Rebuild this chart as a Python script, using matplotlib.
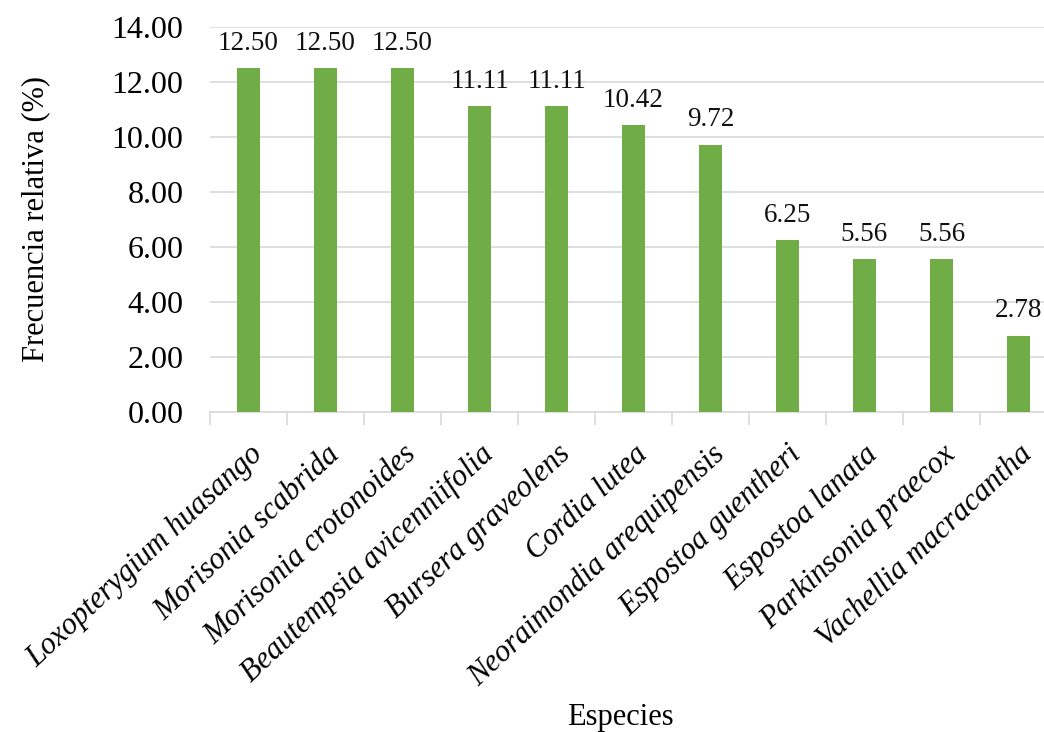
import matplotlib.pyplot as plt
from matplotlib.ticker import FormatStrFormatter

species = ["Loxopterygium huasango", "Morisonia scabrida", "Morisonia crotonoides",
           "Beautempsia avicenniifolia", "Bursera graveolens", "Cordia lutea",
           "Neoraimondia arequipensis", "Espostoa guentheri", "Espostoa lanata",
           "Parkinsonia praecox", "Vachellia macracantha"]
freq_rel = [12.50, 12.50, 12.50, 11.11, 11.11, 10.42, 9.72, 6.25, 5.56, 5.56, 2.78]

plt.rcParams['font.family'] = ['Liberation Serif', 'DejaVu Serif']

W, H = 1044, 732
fig = plt.figure(figsize=(W / 100, H / 100), dpi=100)
# axes spans x 210..1057 px, y 27..412 px (cut off at the right edge like the original)
ax = fig.add_axes([210 / W, 1 - 412 / H, (1057 - 210) / W, (412 - 27) / H])

x = list(range(len(species)))
bars = ax.bar(x, freq_rel, width=0.30, color="#70AD47", zorder=3)

for b, v in zip(bars, freq_rel):
    ax.text(b.get_x() + b.get_width() / 2, v + 0.45, "{:.2f}".format(v),
            ha="center", va="bottom", fontsize=19.5, color="#111111")

ax.set_xlim(-0.5, len(species) - 0.5)
ax.set_ylim(0, 14)
ax.set_yticks([0, 2, 4, 6, 8, 10, 12, 14])
ax.yaxis.set_major_formatter(FormatStrFormatter("%.2f"))
ax.grid(axis="y", color="#D9D9D9", linewidth=1.2, zorder=0)

ax.set_xticks(x)
ax.set_xticklabels(species, rotation=43, ha="right", rotation_mode="anchor",
                   fontstyle="italic", fontsize=22)
ax.set_xticks([i - 0.5 for i in range(len(species) + 1)], minor=True)
ax.tick_params(axis="x", which="major", length=0, pad=20)
ax.tick_params(axis="x", which="minor", length=9, color="#D9D9D9", width=1.2)
ax.tick_params(axis="y", length=0, labelsize=23, pad=19)

for s in ["top", "right", "left"]:
    ax.spines[s].set_visible(False)
ax.spines["bottom"].set_color("#D9D9D9")
ax.spines["bottom"].set_linewidth(1.2)

ax.set_ylabel("Frecuencia relativa (%)", fontsize=22)
ax.yaxis.set_label_coords(-0.189, 0.5)
fig.text(620 / W, 1 - 718 / H, "Especies", ha="center", va="center", fontsize=22)

plt.savefig("out.png", dpi=100)
plt.close()
